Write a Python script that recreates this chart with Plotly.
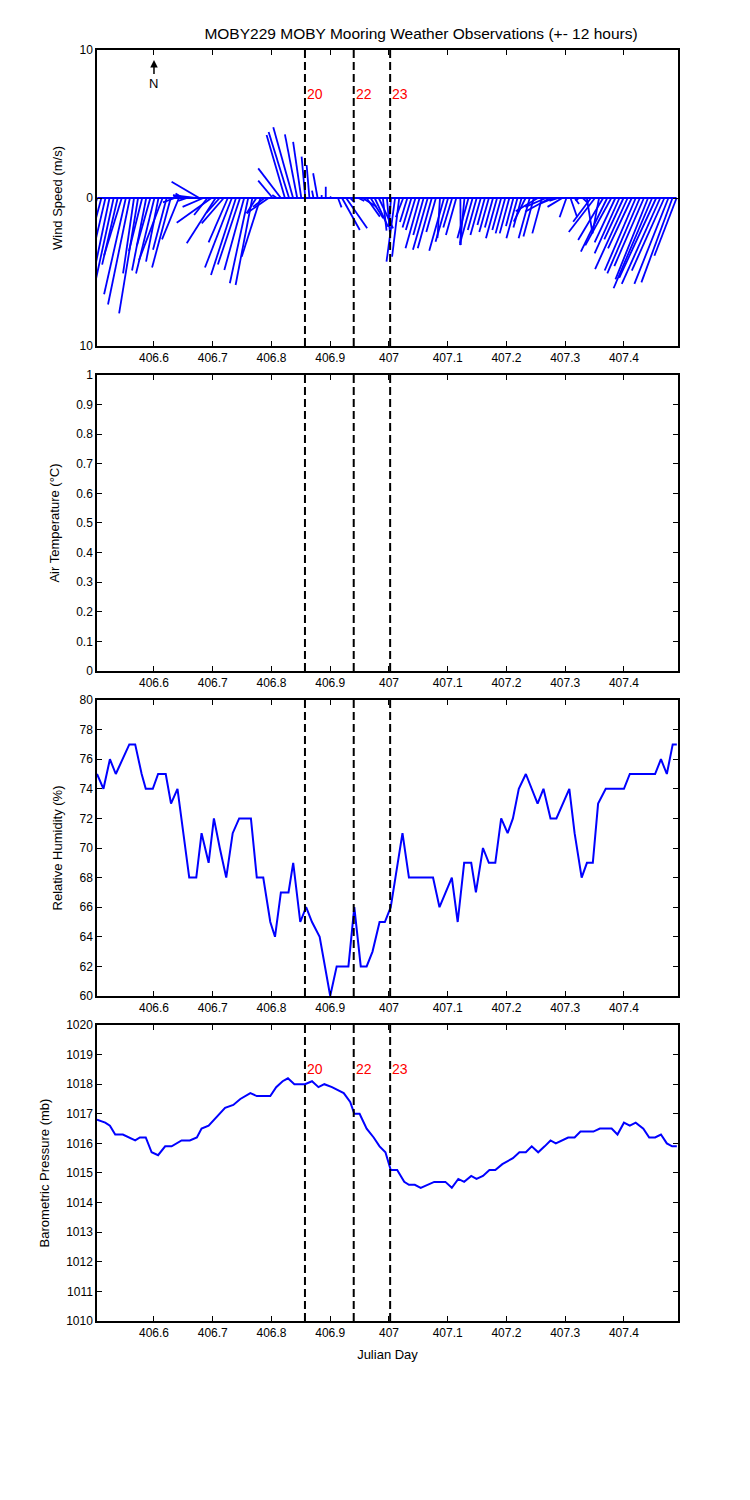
import plotly.graph_objects as go

# ---------------- data ----------------
x_tick_vals = [406.6, 406.7, 406.8, 406.9, 407.0, 407.1, 407.2, 407.3, 407.4]
x_tick_text = ["406.6", "406.7", "406.8", "406.9", "407", "407.1", "407.2", "407.3", "407.4"]

event_days = [406.857, 406.940, 407.002]
event_labels = ["20", "22", "23"]

wind_time = [
    406.5035, 406.5104, 406.5174, 406.5243, 406.5313, 406.5382, 406.5451, 406.5521, 406.5590, 406.5660,
    406.5729, 406.5799, 406.5868, 406.5938, 406.6007, 406.6076, 406.6146, 406.6215, 406.6285, 406.6354,
    406.6424, 406.6493, 406.6563, 406.6632, 406.6701, 406.6771, 406.6840, 406.6910, 406.6979, 406.7049,
    406.7118, 406.7188, 406.7257, 406.7326, 406.7396, 406.7465, 406.7535, 406.7604, 406.7674, 406.7743,
    406.7813, 406.7882, 406.7951, 406.8021, 406.8090, 406.8160, 406.8229, 406.8299, 406.8368, 406.8438,
    406.8507, 406.8576, 406.8646, 406.8715, 406.8785, 406.8854, 406.8924, 406.8993, 406.9063, 406.9132,
    406.9201, 406.9271, 406.9340, 406.9410, 406.9479, 406.9549, 406.9618, 406.9688, 406.9757, 406.9826,
    406.9896, 406.9965, 407.0035, 407.0104, 407.0174, 407.0243, 407.0313, 407.0382, 407.0451, 407.0521,
    407.0590, 407.0660, 407.0729, 407.0799, 407.0868, 407.0938, 407.1007, 407.1076, 407.1146, 407.1215,
    407.1285, 407.1354, 407.1424, 407.1493, 407.1563, 407.1632, 407.1701, 407.1771, 407.1840, 407.1910,
    407.1979, 407.2049, 407.2118, 407.2188, 407.2257, 407.2326, 407.2396, 407.2465, 407.2535, 407.2604,
    407.2674, 407.2743, 407.2813, 407.2882, 407.2951, 407.3021, 407.3090, 407.3160, 407.3229, 407.3299,
    407.3368, 407.3438, 407.3507, 407.3576, 407.3646, 407.3715, 407.3785, 407.3854, 407.3924, 407.3993,
    407.4063, 407.4132, 407.4201, 407.4271, 407.4340, 407.4410, 407.4479, 407.4549, 407.4618, 407.4688,
    407.4757, 407.4826, 407.4896,
]
wind_u = [
    -1.16, -1.3, -1.38, -1.3, -1.2, -1.05, -1.2, -1.47, -1.48, -0.74,
    -1.28, -0.9, -0.96, -0.9, -1.24, -0.84, -1.59, -0.92, -1.26, -0.8,
    -1.14, -0.5, -0.6, -1.2, -1.5, -1.87, -1.4, -0.9, -2.35, -1.95,
    -0.9, -1.49, -1.3, -1.82, -1.69, -1.5, -1.34, -1.24, -1.13, -0.66,
    -1.27, -0.78, -1.48, -0.98, -0.3, -1.53, -1.24, -1.38, -1.34, -0.83,
    -0.55, -0.25, -0.19, -0.1, -0.3, 0.0, 0.0, 0.1, 0.05, 0.24,
    1.2, 1.42, 0.3, 0.2, 0.4, 0.95, 0.9, 0.85, 0.9, 0.97,
    0.25, 0.2, -0.15, -0.58, -0.48, -0.5, -0.5, -0.6, -0.65, -0.95,
    -0.7, -1.0, -0.95, -0.65, -0.17, -1.0, -0.85, -0.6, -0.7, 0.03,
    -0.3, -0.75, -0.85, -0.6, -0.7, -0.5, -0.65, -0.55, -0.75, -0.6,
    -0.65, -0.65, -0.5, -0.75, -0.55, -0.8, -0.75, -0.7, -1.5, -0.65,
    -1.4, -1.69, -1.0, -0.6, -1.0, -0.46, 0.45, 0.3, -0.2, 0.3,
    0.38, -1.2, -1.77, -0.45, -1.69, -1.78, -1.76, -1.4, -1.68, -1.3,
    -2.2, -1.6, -2.1, -2.2, -2.0, -2.2, -2.6, -2.5, -2.6, -2.2,
    -2.3, -2.1, -1.5,
]
wind_v = [
    -3.5, -4.9, -5.9, -6.2, -5.5, -4.5, -3.9, -6.5, -7.2, -5.1,
    -7.8, -3.6, -4.9, -3.2, -5.1, -4.3, -4.2, -3.5, -4.7, -0.3,
    -2.8, 0.3, -0.2, 0.1, 0.2, 1.1, -0.6, -1.15, -1.67, -3.06,
    -1.0, -1.71, -3.0, -4.7, -5.2, -4.5, -4.86, -5.76, -5.88, -1.03,
    -3.97, -0.6, -1.03, 1.17, 0.2, 2.0, 4.26, 4.46, 4.78, 4.3,
    3.8, 2.8, 2.23, 0.5, 1.67, 0.2, 0.76, 0.1, 0.0, -0.63,
    -2.16, -2.05, -0.3, 0.0, -0.2, -0.59, -1.26, -1.37, -1.94, -2.05,
    -2.2, -2.3, -1.96, -4.3, -3.97, -1.3, -1.62, -2.0, -2.16, -3.4,
    -2.5, -3.5, -3.4, -2.3, -2.7, -3.56, -2.95, -2.0, -2.5, -3.18,
    -3.18, -2.72, -3.06, -2.16, -2.5, -1.82, -2.3, -2.0, -2.72, -2.16,
    -2.39, -2.39, -1.9, -2.72, -2.0, -1.6, -2.72, -2.6, -0.9, -2.39,
    -0.6, -0.93, -0.4, -0.2, -0.6, -1.3, -1.3, -0.4, -0.2, -0.3,
    -2.39, -1.6, -2.3, -2.39, -2.84, -3.63, -3.2, -3.0, -3.74, -2.8,
    -4.8, -3.4, -4.9, -5.1, -4.6, -5.5, -6.1, -5.4, -5.8, -4.9,
    -5.8, -5.7, -3.9,
]

hum_time = [
    406.503, 406.514, 406.525, 406.535, 406.558, 406.568, 406.579, 406.586, 406.598, 406.607,
    406.620, 406.629, 406.640, 406.647, 406.660, 406.672, 406.681, 406.693, 406.702, 406.712,
    406.723, 406.734, 406.745, 406.765, 406.775, 406.786, 406.798, 406.806, 406.816, 406.829,
    406.837, 406.849, 406.859, 406.869, 406.882, 406.900, 406.911, 406.931, 406.941, 406.952,
    406.962, 406.972, 406.984, 406.993, 407.003, 407.011, 407.023, 407.034, 407.075, 407.086,
    407.107, 407.117, 407.128, 407.140, 407.148, 407.160, 407.170, 407.181, 407.191, 407.202,
    407.211, 407.221, 407.233, 407.253, 407.263, 407.275, 407.285, 407.307, 407.316, 407.328,
    407.337, 407.347, 407.356, 407.369, 407.400, 407.410, 407.453, 407.463, 407.473, 407.483,
    407.490,
]
hum_val = [
    75, 74, 76, 75, 77, 77, 75, 74, 74, 75,
    75, 73, 74, 72, 68, 68, 71, 69, 72, 70,
    68, 71, 72, 72, 68, 68, 65, 64, 67, 67,
    69, 65, 66, 65, 64, 60, 62, 62, 66, 62,
    62, 63, 65, 65, 66, 68, 71, 68, 68, 66,
    68, 65, 69, 69, 67, 70, 69, 69, 72, 71,
    72, 74, 75, 73, 74, 72, 72, 74, 71, 68,
    69, 69, 73, 74, 74, 75, 75, 76, 75, 77,
    77,
]

pres_time = [
    406.503, 406.517, 406.525, 406.534, 406.547, 406.568, 406.576, 406.586, 406.596, 406.607,
    406.619, 406.630, 406.647, 406.661, 406.673, 406.681, 406.693, 406.707, 406.721, 406.735,
    406.747, 406.764, 406.775, 406.798, 406.808, 406.819, 406.828, 406.839, 406.857, 406.869,
    406.880, 406.890, 406.903, 406.923, 406.934, 406.941, 406.950, 406.962, 406.974, 406.984,
    406.994, 407.003, 407.014, 407.026, 407.034, 407.044, 407.054, 407.077, 407.096, 407.107,
    407.118, 407.128, 407.140, 407.149, 407.160, 407.171, 407.181, 407.193, 407.211, 407.222,
    407.233, 407.243, 407.254, 407.265, 407.275, 407.284, 407.295, 407.305, 407.316, 407.326,
    407.348, 407.359, 407.379, 407.389, 407.400, 407.410, 407.420, 407.433, 407.443, 407.453,
    407.463, 407.473, 407.482, 407.490,
]
pres_val = [
    1016.8, 1016.7, 1016.6, 1016.3, 1016.3, 1016.1, 1016.2, 1016.2, 1015.7, 1015.6,
    1015.9, 1015.9, 1016.1, 1016.1, 1016.2, 1016.5, 1016.6, 1016.9, 1017.2, 1017.3,
    1017.5, 1017.7, 1017.6, 1017.6, 1017.9, 1018.1, 1018.2, 1018.0, 1018.0, 1018.1,
    1017.9, 1018.0, 1017.9, 1017.7, 1017.4, 1017.0, 1017.0, 1016.5, 1016.2, 1015.9,
    1015.7, 1015.1, 1015.1, 1014.7, 1014.6, 1014.6, 1014.5, 1014.7, 1014.7, 1014.5,
    1014.8, 1014.7, 1014.9, 1014.8, 1014.9, 1015.1, 1015.1, 1015.3, 1015.5, 1015.7,
    1015.7, 1015.9, 1015.7, 1015.9, 1016.1, 1016.0, 1016.1, 1016.2, 1016.2, 1016.4,
    1016.4, 1016.5, 1016.5, 1016.3, 1016.7, 1016.6, 1016.7, 1016.5, 1016.2, 1016.2,
    1016.3, 1016.0, 1015.9, 1015.9,
]

wind_ticks = [-10, 0, 10]
wind_tick_text = ["10", "0", "10"]
temp_ticks = [0, 0.1, 0.2, 0.3, 0.4, 0.5, 0.6, 0.7, 0.8, 0.9, 1]
temp_tick_text = ["0", "0.1", "0.2", "0.3", "0.4", "0.5", "0.6", "0.7", "0.8", "0.9", "1"]
hum_ticks = [60, 62, 64, 66, 68, 70, 72, 74, 76, 78, 80]
pres_ticks = [1010, 1011, 1012, 1013, 1014, 1015, 1016, 1017, 1018, 1019, 1020]

# ---------------- layout constants ----------------
X_RANGE = [406.503, 407.492]
STICK_SCALE = 0.02519   # days per m/s so sticks keep true angles on screen
FONT = "Liberation Sans, Arial, sans-serif"
BLUE = "#0000ff"

fig = go.Figure()

# wind sticks
sx, sy = [], []
for t, u, v in zip(wind_time, wind_u, wind_v):
    sx += [t, t + u * STICK_SCALE, None]
    sy += [0, v, None]
sx += [wind_time[0], wind_time[-1]]
sy += [0, 0]
fig.add_trace(go.Scatter(x=sx, y=sy, mode="lines", line=dict(color=BLUE, width=1.8, simplify=False),
                         xaxis="x", yaxis="y", showlegend=False, hoverinfo="skip"))

# air temperature: no data (empty panel)
fig.add_trace(go.Scatter(x=[], y=[], mode="lines", xaxis="x2", yaxis="y2", showlegend=False))

fig.add_trace(go.Scatter(x=hum_time, y=hum_val, mode="lines", line=dict(color=BLUE, width=2),
                         xaxis="x3", yaxis="y3", showlegend=False))
fig.add_trace(go.Scatter(x=pres_time, y=pres_val, mode="lines", line=dict(color=BLUE, width=2),
                         xaxis="x4", yaxis="y4", showlegend=False))

domains = [[0.76712, 1.0], [0.51141, 0.74430], [0.25570, 0.48859], [0.0, 0.23289]]


def xaxis(i):
    return dict(range=X_RANGE, domain=[0, 1], anchor="y" if i == 1 else f"y{i}",
                tickmode="array", tickvals=x_tick_vals, ticktext=x_tick_text,
                ticks="inside", ticklen=5, tickwidth=1, tickcolor="black",
                showline=True, linecolor="black", linewidth=1.5, mirror="ticks",
                showgrid=False, zeroline=False,
                tickfont=dict(family=FONT, size=12, color="black"))


def yaxis(i, rng, tv, tt, title):
    return dict(range=rng, domain=domains[i - 1], anchor="x" if i == 1 else f"x{i}",
                tickmode="array", tickvals=tv, ticktext=tt,
                ticks="inside", ticklen=5, tickwidth=1, tickcolor="black",
                showline=True, linecolor="black", linewidth=1.5, mirror="ticks",
                showgrid=False, zeroline=False,
                tickfont=dict(family=FONT, size=12, color="black"),
                title=dict(text=title, font=dict(family=FONT, size=13, color="black"), standoff=14))


# the page body adds an 8px offset, so margins are reduced by 8 on the left/top
layout = dict(
    width=750, height=1500,
    margin=dict(l=89, r=80, t=42, b=187),
    paper_bgcolor="white", plot_bgcolor="white",
    showlegend=False,
    title=dict(text="MOBY229 MOBY Mooring Weather Observations (+- 12 hours)",
               x=413 / 750, xanchor="center", xref="container",
               y=1 - 26 / 1500, yanchor="middle", yref="container",
               font=dict(family=FONT, size=15.5, color="black")),
)
for i in range(1, 5):
    layout["xaxis" if i == 1 else f"xaxis{i}"] = xaxis(i)
layout["yaxis"] = yaxis(1, [-10, 10], wind_ticks, wind_tick_text, "Wind Speed (m/s)")
layout["yaxis2"] = yaxis(2, [0, 1], temp_ticks, temp_tick_text, "Air Temperature (°C)")
layout["yaxis3"] = yaxis(3, [60, 80], hum_ticks, [str(v) for v in hum_ticks], "Relative Humidity (%)")
layout["yaxis4"] = yaxis(4, [1010, 1020], pres_ticks, [str(v) for v in pres_ticks], "Barometric Pressure (mb)")
layout["xaxis4"]["title"] = dict(text="Julian Day", font=dict(family=FONT, size=13, color="black"), standoff=11)
fig.update_layout(**layout)

# event lines in every panel
shapes = []
for yref in ["y", "y2", "y3", "y4"]:
    xref = "x" if yref == "y" else "x" + yref[1:]
    for d in event_days:
        shapes.append(dict(type="line", xref=xref, yref=f"{yref} domain", x0=d, x1=d, y0=0, y1=1,
                           line=dict(color="black", width=2, dash="8px,4px")))
fig.update_layout(shapes=shapes)

ann = []
for d, lab in zip(event_days, event_labels):
    ann.append(dict(x=d, y=7.05, xref="x", yref="y", text=lab, showarrow=False, xanchor="left",
                    xshift=0, font=dict(family=FONT, size=14, color="red")))
    ann.append(dict(x=d, y=1018.5, xref="x4", yref="y4", text=lab, showarrow=False, xanchor="left",
                    xshift=0, font=dict(family=FONT, size=14, color="red")))
# north arrow
ann.append(dict(x=406.6, y=9.32, xref="x", yref="y", text="N", showarrow=True, ax=0, ay=23,
                arrowhead=2, arrowsize=1, arrowwidth=1.5, arrowcolor="black",
                font=dict(family=FONT, size=13, color="black")))
fig.update_layout(annotations=ann)

fig.write_html("out.html")
